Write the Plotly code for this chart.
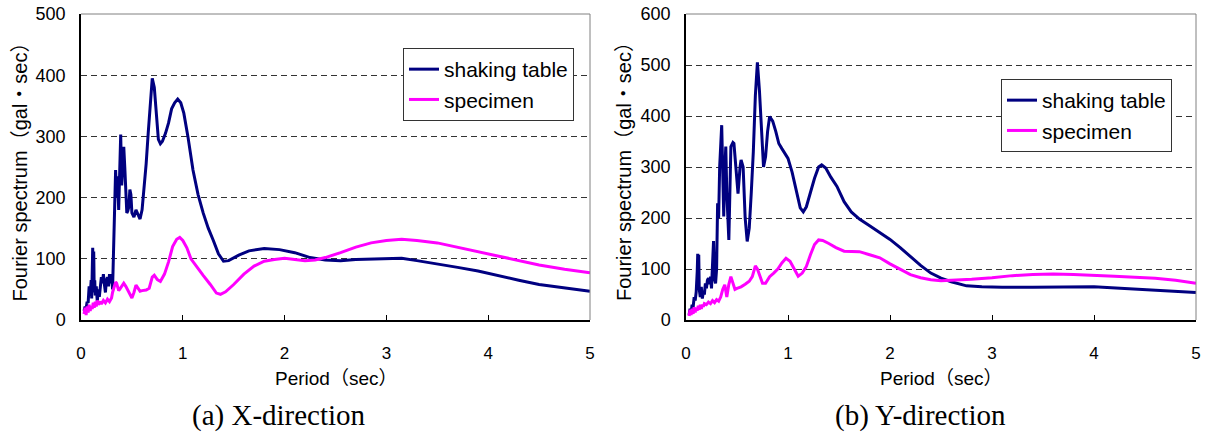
import plotly.graph_objects as go

# ---------------- data ----------------
# (a) X-direction, shaking table
x_table_T = [0.03,0.04,0.05,0.06,0.07,0.08,0.09,0.10,0.105,0.11,0.115,0.12,0.125,0.13,0.135,0.14,0.15,0.16,0.17,0.18,
             0.19,0.20,0.21,0.22,0.23,0.24,0.25,0.26,0.27,0.28,0.29,0.30,0.31,0.32,0.33,0.34,0.35,0.36,0.37,0.38,
             0.39,0.40,0.41,0.42,0.43,0.44,0.45,0.46,0.47,0.48,0.49,0.50,0.52,0.54,0.56,0.58,0.60,0.62,0.64,0.66,
             0.68,0.70,0.72,0.74,0.76,0.78,0.80,0.83,0.86,0.89,0.92,0.95,0.98,1.01,1.05,1.10,1.15,1.20,1.25,1.30,
             1.35,1.40,1.45,1.55,1.65,1.80,1.95,2.10,2.25,2.40,2.55,2.70,2.85,3.00,3.15,3.30,3.50,3.70,3.90,4.10,
             4.30,4.50,4.75,5.00]
x_table_V = [15,22,18,30,28,55,40,65,35,90,118,60,112,45,65,40,55,30,50,38,
             62,70,60,75,58,45,65,70,55,75,60,75,50,120,175,245,200,235,180,270,
             303,220,245,283,250,200,175,178,185,213,205,175,168,180,172,165,180,215,255,305,
             360,395,380,330,295,288,292,305,322,345,355,361,355,338,300,245,205,175,150,130,
             108,96,97,106,113,117,115,110,102,98,97,99,100,101,101,97,92,86,80,72,
             65,58,53,47]

# (a) X-direction, specimen
x_spec_T = [0.03,0.04,0.05,0.06,0.07,0.08,0.09,0.10,0.11,0.12,0.13,0.14,0.15,0.16,0.17,0.18,0.19,0.20,0.22,0.24,
            0.26,0.28,0.30,0.31,0.32,0.33,0.34,0.35,0.36,0.37,0.38,0.40,0.42,0.44,0.46,0.48,0.50,0.52,0.54,0.56,
            0.58,0.60,0.64,0.67,0.70,0.72,0.75,0.78,0.82,0.86,0.90,0.94,0.97,1.00,1.04,1.08,1.13,1.20,1.27,1.33,
            1.37,1.42,1.50,1.60,1.70,1.80,1.90,2.00,2.10,2.20,2.30,2.40,2.55,2.70,2.85,3.00,3.15,3.30,3.50,3.70,
            3.90,4.10,4.30,4.50,4.75,5.00]
x_spec_V = [10,20,8,22,12,25,15,22,18,28,20,30,22,32,25,28,30,26,32,28,
            34,30,36,45,52,58,62,60,55,48,50,55,60,55,48,42,36,45,57,52,
            47,48,49,52,70,73,66,63,75,95,120,132,135,130,118,100,88,73,58,44,
            42,46,58,75,88,96,99,101,99,97,98,102,110,119,126,130,132,130,126,119,
            112,105,98,90,83,77]

# (b) Y-direction, shaking table
y_table_T = [0.03,0.04,0.05,0.06,0.07,0.08,0.09,0.10,0.11,0.115,0.12,0.125,0.13,0.14,0.15,0.16,0.17,0.18,0.19,0.20,
             0.21,0.22,0.23,0.24,0.25,0.26,0.27,0.28,0.29,0.30,0.31,0.32,0.33,0.35,0.36,0.37,0.38,0.39,0.40,0.42,
             0.44,0.46,0.47,0.49,0.51,0.53,0.54,0.56,0.58,0.60,0.62,0.64,0.66,0.68,0.70,0.72,0.74,0.76,0.78,0.80,
             0.82,0.85,0.88,0.91,0.94,0.97,1.00,1.04,1.08,1.12,1.15,1.18,1.22,1.26,1.30,1.33,1.37,1.42,1.48,1.55,
             1.62,1.70,1.80,1.90,2.00,2.10,2.20,2.30,2.40,2.50,2.60,2.75,2.90,3.10,3.40,3.70,4.00,4.30,4.60,5.00]
y_table_V = [10,22,15,30,25,45,38,55,95,130,85,128,60,45,65,42,55,50,72,62,
             78,82,70,85,62,110,155,80,72,100,229,200,300,382,260,203,290,340,250,157,
             340,348,346,300,248,300,314,300,200,154,180,250,330,440,505,450,380,300,320,370,
             399,390,370,346,336,325,317,290,255,220,212,222,250,278,300,304,298,280,262,232,
             212,198,185,172,158,142,124,107,92,82,75,67,65,64,64,65,65,62,58,54]

# (b) Y-direction, specimen
y_spec_T = [0.03,0.04,0.05,0.06,0.07,0.08,0.09,0.10,0.11,0.12,0.13,0.14,0.15,0.16,0.17,0.18,0.20,0.22,0.24,0.26,
            0.28,0.30,0.32,0.34,0.36,0.38,0.40,0.42,0.44,0.46,0.48,0.50,0.54,0.58,0.62,0.65,0.68,0.70,0.72,0.75,
            0.78,0.82,0.86,0.90,0.94,0.98,1.02,1.06,1.10,1.14,1.18,1.22,1.26,1.30,1.34,1.40,1.47,1.55,1.62,1.70,
            1.80,1.90,2.00,2.10,2.20,2.30,2.40,2.50,2.65,2.80,3.00,3.20,3.40,3.60,3.80,4.00,4.20,4.40,4.60,4.80,
            5.00]
y_spec_V = [8,20,10,22,12,25,15,24,18,28,20,30,22,30,26,32,30,35,32,38,
            34,40,37,45,60,69,45,70,85,72,60,62,65,70,76,85,106,100,88,72,
            72,85,92,100,112,121,115,100,86,92,105,128,148,157,156,150,142,135,134,134,
            128,122,110,100,89,83,79,77,78,80,83,87,89,90,89,88,86,84,82,78,
            72]

x_ticks = [0, 1, 2, 3, 4, 5]
y_ticks_a = [0, 100, 200, 300, 400, 500]
y_ticks_b = [0, 100, 200, 300, 400, 500, 600]

series_names = ["shaking table", "specimen"]
captions = ["(a) X-direction", "(b) Y-direction"]
x_title = "Period（sec）"
y_title = "Fourier spectrum（gal・sec）"

# ---------------- figure ----------------
NAVY = "#000080"
MAGENTA = "#FF00FF"
SANS = "Liberation Sans, Noto Sans CJK JP, sans-serif"
W, H = 1205, 434

fig = go.Figure()
fig.add_trace(go.Scatter(x=x_table_T, y=x_table_V, name=series_names[0], mode="lines",
                         line=dict(color=NAVY, width=3), xaxis="x", yaxis="y", legend="legend"))
fig.add_trace(go.Scatter(x=x_spec_T, y=x_spec_V, name=series_names[1], mode="lines",
                         line=dict(color=MAGENTA, width=3), xaxis="x", yaxis="y", legend="legend"))
fig.add_trace(go.Scatter(x=y_table_T, y=y_table_V, name=series_names[0], mode="lines",
                         line=dict(color=NAVY, width=3), xaxis="x2", yaxis="y2", legend="legend2"))
fig.add_trace(go.Scatter(x=y_spec_T, y=y_spec_V, name=series_names[1], mode="lines",
                         line=dict(color=MAGENTA, width=3), xaxis="x2", yaxis="y2", legend="legend2"))

ydom = [1 - 320 / H, 1 - 14 / H]
xdom1 = [81 / W, 590 / W]
xdom2 = [686 / W, 1196 / W]

def xaxis(dom, anchor):
    return dict(domain=dom, anchor=anchor, range=[0, 5], tickvals=x_ticks, showgrid=False,
                zeroline=False, showline=True, linecolor="black", linewidth=2,
                ticks="inside", ticklen=5, tickcolor="black", tickwidth=1, automargin=False,
                ticklabelstandoff=17, tickfont=dict(family=SANS, size=17, color="black"))

def yaxis(dom, anchor, rng, tv):
    return dict(domain=dom, anchor=anchor, range=rng, tickvals=tv, showgrid=True,
                gridcolor="#333333", griddash="6px,4px", gridwidth=1, automargin=False,
                zeroline=False, showline=True, linecolor="black", linewidth=1.5,
                ticks="", ticklabelstandoff=10,
                tickfont=dict(family=SANS, size=18, color="black"))

legend_common = dict(bgcolor="white", bordercolor="#333333", borderwidth=1,
                     font=dict(family=SANS, size=21, color="black"),
                     xanchor="left", yanchor="top", tracegroupgap=0)

fig.update_layout(
    width=W, height=H, margin=dict(l=0, r=0, t=0, b=0, autoexpand=False),
    paper_bgcolor="white", plot_bgcolor="white",
    xaxis=xaxis(xdom1, "y"), yaxis=yaxis(ydom, "x", [0, 500], y_ticks_a),
    xaxis2=xaxis(xdom2, "y2"), yaxis2=yaxis(ydom, "x2", [0, 600], y_ticks_b),
    legend=dict(x=403 / W, y=1 - 48 / H, **legend_common),
    legend2=dict(x=1001 / W, y=1 - 79 / H, **legend_common),
    showlegend=True,
)

# gray top and right frame lines
for xr, yr in (("x domain", "y domain"), ("x2 domain", "y2 domain")):
    fig.add_shape(type="line", xref=xr, yref=yr, x0=0, x1=1, y0=1, y1=1,
                  line=dict(color="#808080", width=1))
    fig.add_shape(type="line", xref=xr, yref=yr, x0=1, x1=1, y0=0, y1=1,
                  line=dict(color="#808080", width=1))

# titles and captions
for cx, ty, cap, capx in ((336, 19.5, captions[0], 279), (941, 624, captions[1], 921)):
    fig.add_annotation(text=x_title, x=cx / W, y=1 - 378 / H, xref="paper", yref="paper",
                       showarrow=False, xanchor="center", yanchor="middle",
                       font=dict(family=SANS, size=19, color="black"))
    fig.add_annotation(text=y_title, x=ty / W, y=1 - 167 / H, xref="paper", yref="paper",
                       showarrow=False, xanchor="center", yanchor="middle", textangle=-90,
                       font=dict(family=SANS, size=20, color="black"))
    fig.add_annotation(text=cap, x=capx / W, y=1 - 415 / H, xref="paper", yref="paper",
                       showarrow=False, xanchor="center", yanchor="middle",
                       font=dict(family="Liberation Serif, serif", size=29, color="black"))

fig.write_html("out.html")
